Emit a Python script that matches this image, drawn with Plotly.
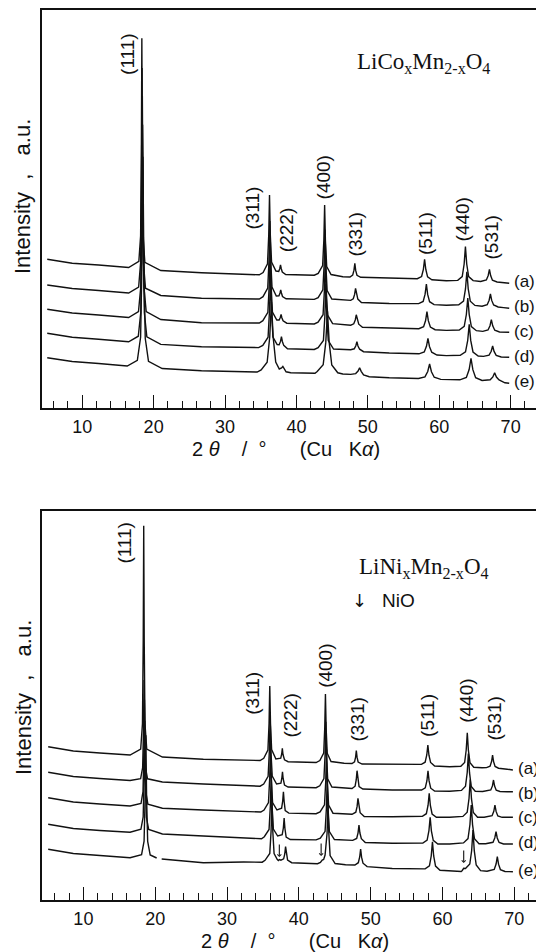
import plotly.graph_objects as go

# ---------------- DATA (2-theta in degrees, intensity in a.u. as stacked on the chart) -------------
# Top panel: LiCoxMn2-xO4, patterns (a)..(e)
co_a_x = [5.1, 8.6, 12.3, 16.5, 17.93, 18.175, 18.28, 18.35, 18.42, 18.525, 18.77, 21.0, 26.7, 32.3, 34.8, 35.33, 35.95, 36.12, 36.23, 36.34, 36.515, 37.13, 37.52, 37.67, 37.77, 37.87, 38.02, 38.5, 40.5, 42.5, 43.05, 43.67, 43.84, 43.95, 44.06, 44.24, 44.85, 46.5, 47.5, 47.88, 48.06, 48.18, 48.3, 48.48, 49.0, 53.0, 56.93, 57.53, 57.78, 57.95, 58.12, 58.37, 58.97, 61.0, 62.59, 63.22, 63.49, 63.67, 63.85, 64.12, 64.75, 65.8, 66.6, 66.86, 67.03, 67.2, 67.45, 68.1, 69.0, 69.8]
co_a_y = [148.7, 144.7, 143.0, 140.5, 146.6, 171.9, 254.7, 369.7, 253.7, 170.9, 145.6, 137.5, 135.3, 133.7, 133.2, 135.4, 144.2, 173.0, 213.0, 173.5, 146.0, 137.0, 136.5, 139.5, 143.0, 139.5, 136.0, 133.5, 133.2, 132.8, 134.6, 142.4, 168.0, 203.0, 167.5, 141.5, 133.5, 131.3, 131.0, 132.9, 137.8, 144.7, 137.6, 132.7, 130.7, 129.8, 129.3, 131.5, 138.7, 148.7, 138.5, 131.2, 128.2, 127.2, 127.6, 131.4, 144.0, 161.5, 144.0, 131.4, 127.4, 126.5, 128.0, 132.5, 138.7, 132.4, 127.8, 126.0, 125.4, 124.7]

co_b_x = [5.1, 8.6, 12.3, 16.5, 17.9, 18.18, 18.3, 18.38, 18.46, 18.58, 18.86, 21.0, 26.7, 32.3, 34.8, 35.32, 35.98, 36.16, 36.28, 36.4, 36.58, 37.18, 37.55, 37.7, 37.8, 37.9, 38.05, 38.55, 40.5, 42.5, 43.04, 43.7, 43.88, 44.0, 44.12, 44.3, 44.96, 46.5, 47.6, 47.96, 48.15, 48.28, 48.41, 48.6, 49.1, 53.0, 57.12, 57.75, 58.02, 58.2, 58.38, 58.65, 59.28, 61.0, 62.73, 63.4, 63.68, 63.87, 64.06, 64.35, 65.0, 66.0, 66.72, 66.99, 67.17, 67.35, 67.62, 68.25, 69.0, 69.8]
co_b_y = [123.0, 119.5, 117.5, 115.0, 120.8, 145.6, 227.0, 340.0, 226.0, 144.6, 119.8, 112.5, 109.7, 109.5, 109.0, 111.3, 120.0, 148.0, 187.0, 148.0, 121.0, 112.0, 112.2, 115.0, 118.0, 115.0, 111.5, 109.2, 109.0, 108.6, 110.4, 118.1, 143.3, 178.3, 143.0, 117.5, 109.0, 108.0, 107.6, 109.2, 113.6, 119.7, 113.4, 108.9, 105.5, 104.5, 104.4, 106.6, 113.8, 124.0, 113.6, 106.3, 103.4, 102.8, 103.3, 107.0, 119.3, 136.3, 119.2, 106.8, 102.6, 101.8, 103.3, 107.8, 114.0, 107.6, 103.0, 101.0, 100.4, 99.7]

co_c_x = [5.1, 8.6, 12.3, 16.5, 17.88, 18.195, 18.33, 18.42, 18.51, 18.645, 18.96, 21.0, 26.7, 32.3, 34.8, 35.3, 36.0, 36.19, 36.32, 36.45, 36.64, 37.25, 37.58, 37.74, 37.85, 37.96, 38.13, 38.65, 40.5, 42.5, 43.03, 43.73, 43.92, 44.05, 44.18, 44.37, 45.07, 46.5, 47.6, 48.03, 48.24, 48.38, 48.52, 48.73, 49.25, 53.0, 57.14, 57.81, 58.09, 58.28, 58.47, 58.76, 59.42, 61.0, 62.8, 63.5, 63.8, 64.0, 64.2, 64.5, 65.2, 66.1, 66.83, 67.11, 67.3, 67.49, 67.78, 68.44, 69.0, 69.8]
co_c_y = [98.7, 95.0, 93.0, 90.5, 96.4, 120.8, 200.7, 311.7, 200.7, 120.8, 96.4, 88.5, 85.3, 85.3, 85.0, 87.3, 95.6, 123.0, 161.0, 123.0, 96.0, 88.0, 88.0, 90.5, 93.5, 90.3, 87.2, 84.8, 84.5, 84.0, 85.8, 93.3, 117.8, 151.8, 117.5, 92.8, 84.3, 83.2, 82.8, 84.2, 88.0, 93.2, 87.8, 83.8, 80.8, 79.8, 79.3, 81.3, 87.5, 96.3, 87.3, 81.0, 78.3, 77.6, 78.0, 81.6, 93.5, 110.0, 93.4, 81.4, 77.3, 76.6, 78.0, 82.3, 88.3, 82.2, 77.8, 76.0, 76.0, 75.7]

co_d_x = [5.1, 8.6, 12.3, 16.5, 17.85, 18.2, 18.35, 18.45, 18.55, 18.7, 19.05, 21.0, 26.7, 32.3, 34.7, 35.29, 36.03, 36.23, 36.37, 36.51, 36.71, 37.3, 37.58, 37.77, 37.9, 38.03, 38.22, 38.75, 40.5, 42.5, 43.04, 43.78, 43.98, 44.12, 44.26, 44.46, 45.2, 46.5, 47.6, 48.1, 48.32, 48.47, 48.62, 48.85, 49.4, 53.0, 57.16, 57.9, 58.21, 58.42, 58.63, 58.95, 59.68, 61.0, 62.94, 63.68, 63.99, 64.2, 64.41, 64.73, 65.46, 66.2, 66.98, 67.28, 67.48, 67.68, 67.98, 68.68, 69.0, 69.8]
co_d_y = [74.7, 70.8, 68.7, 66.2, 71.8, 95.8, 174.3, 283.3, 174.0, 95.3, 71.2, 63.6, 61.3, 60.7, 60.4, 62.6, 70.8, 97.4, 134.4, 97.4, 71.0, 63.4, 63.2, 66.6, 71.3, 66.5, 62.6, 59.3, 58.8, 58.5, 60.4, 67.6, 91.4, 124.4, 91.3, 67.4, 59.0, 58.7, 58.3, 59.2, 62.2, 66.3, 62.0, 58.8, 56.3, 55.0, 54.2, 56.0, 61.7, 69.7, 61.5, 55.8, 53.0, 52.4, 52.7, 56.2, 67.7, 83.7, 67.6, 56.0, 52.0, 51.6, 52.9, 56.7, 62.0, 56.6, 52.7, 51.0, 51.0, 50.7]

co_e_x = [5.1, 8.6, 12.3, 16.3, 17.72, 18.175, 18.37, 18.5, 18.63, 18.825, 19.28, 21.2, 26.7, 32.3, 34.5, 35.06, 35.9, 36.26, 36.5, 36.74, 37.1, 37.6, 37.92, 38.1, 38.28, 38.55, 39.2, 41.0, 42.6, 42.91, 43.75, 44.11, 44.35, 44.59, 44.95, 45.79, 46.5, 47.6, 48.3, 48.63, 48.85, 49.07, 49.4, 50.2, 53.0, 57.09, 58.0, 58.39, 58.65, 58.91, 59.3, 60.21, 62.0, 62.89, 63.8, 64.19, 64.45, 64.71, 65.1, 66.0, 67.14, 67.51, 67.76, 68.01, 68.38, 69.2, 69.8]
co_e_y = [50.3, 46.5, 44.5, 42.0, 47.6, 70.7, 146.3, 251.3, 145.8, 69.7, 46.6, 39.5, 37.3, 36.3, 36.0, 38.1, 45.8, 71.0, 106.0, 71.0, 46.0, 39.0, 40.0, 41.5, 39.5, 36.2, 35.2, 35.0, 34.7, 36.5, 43.3, 65.6, 96.6, 65.4, 43.0, 35.2, 34.0, 33.6, 34.4, 36.9, 40.3, 36.7, 33.0, 31.3, 30.2, 29.5, 31.1, 36.5, 44.0, 36.3, 30.8, 28.6, 28.0, 28.2, 30.6, 38.5, 49.6, 38.3, 30.3, 27.5, 28.2, 31.1, 35.3, 31.0, 28.0, 25.2, 24.7]

# Bottom panel: LiNixMn2-xO4, patterns (a)..(e)
ni_a_x = [5.1, 8.6, 12.3, 16.5, 17.98, 18.225, 18.33, 18.4, 18.47, 18.575, 18.82, 21.0, 26.7, 32.3, 34.6, 35.11, 35.69, 35.85, 35.95, 36.05, 36.21, 36.8, 37.48, 37.61, 37.7, 37.79, 38.0, 38.5, 40.5, 42.4, 42.92, 43.46, 43.6, 43.7, 43.8, 43.95, 44.48, 46.3, 47.4, 47.75, 47.9, 48.0, 48.1, 48.25, 48.8, 53.0, 57.06, 57.58, 57.81, 57.96, 58.11, 58.34, 58.9, 61.0, 62.55, 63.08, 63.3, 63.45, 63.6, 63.83, 64.35, 65.5, 66.13, 66.62, 66.83, 66.97, 67.11, 67.32, 67.8, 69.0, 69.8]
ni_a_y = [153.3, 149.0, 147.0, 145.0, 150.9, 176.2, 259.0, 374.3, 259.0, 176.2, 150.9, 143.0, 140.7, 140.0, 139.5, 141.7, 150.0, 176.7, 214.0, 176.7, 150.5, 141.0, 141.8, 146.0, 151.7, 145.5, 140.2, 138.3, 137.8, 137.5, 139.4, 147.0, 171.7, 206.0, 171.5, 146.8, 138.5, 136.7, 136.5, 138.2, 142.9, 149.4, 142.8, 138.0, 136.0, 135.5, 135.6, 137.8, 145.0, 155.0, 144.8, 137.6, 134.0, 133.2, 133.7, 137.5, 150.0, 167.3, 149.8, 137.2, 132.7, 132.2, 132.4, 133.8, 138.5, 145.0, 138.4, 133.6, 131.8, 130.8, 130.0]

ni_b_x = [5.1, 8.6, 12.3, 16.5, 17.97, 18.25, 18.37, 18.45, 18.53, 18.65, 18.93, 21.0, 26.7, 32.3, 34.6, 35.1, 35.72, 35.89, 36.0, 36.11, 36.29, 36.9, 37.5, 37.63, 37.72, 37.81, 38.0, 38.5, 40.5, 42.4, 42.91, 43.49, 43.65, 43.75, 43.85, 44.01, 44.6, 46.3, 47.4, 47.83, 47.99, 48.1, 48.21, 48.38, 48.9, 53.0, 57.08, 57.6, 57.83, 57.98, 58.13, 58.36, 58.9, 61.0, 62.64, 63.2, 63.44, 63.6, 63.76, 64.0, 64.56, 65.6, 66.72, 66.95, 67.1, 67.25, 67.48, 68.0, 69.0, 69.8]
ni_b_y = [127.7, 123.5, 121.5, 119.5, 121.4, 132.5, 169.2, 220.0, 169.0, 132.3, 121.2, 118.0, 116.0, 114.0, 113.8, 116.0, 123.6, 148.8, 183.8, 148.8, 124.0, 116.0, 116.8, 121.8, 128.3, 121.5, 115.0, 113.0, 112.6, 112.3, 114.2, 121.4, 145.2, 178.2, 145.0, 121.2, 113.0, 111.7, 111.5, 113.8, 120.3, 129.3, 120.2, 113.5, 111.0, 110.0, 110.0, 112.1, 119.3, 129.3, 119.1, 111.8, 109.0, 108.8, 109.6, 113.8, 127.5, 146.5, 127.3, 113.5, 108.8, 108.5, 110.0, 114.1, 120.0, 114.0, 109.8, 108.5, 108.3, 108.3]

ni_c_x = [5.1, 8.6, 12.3, 16.5, 18.02, 18.3, 18.42, 18.5, 18.58, 18.7, 18.98, 21.0, 26.7, 32.3, 34.7, 35.15, 35.77, 35.94, 36.05, 36.16, 36.34, 36.95, 37.6, 37.75, 37.85, 37.95, 38.1, 38.6, 40.5, 42.4, 42.95, 43.57, 43.74, 43.85, 43.96, 44.14, 44.75, 46.3, 47.4, 47.93, 48.11, 48.23, 48.35, 48.53, 49.1, 53.0, 57.19, 57.75, 57.99, 58.15, 58.31, 58.55, 59.15, 61.0, 62.84, 63.44, 63.69, 63.86, 64.03, 64.29, 64.88, 65.8, 66.9, 67.14, 67.3, 67.46, 67.7, 68.3, 69.0, 69.8]
ni_c_y = [102.3, 98.0, 96.0, 94.0, 96.5, 108.3, 146.8, 200.3, 146.2, 107.7, 95.9, 91.8, 90.0, 88.3, 88.0, 90.0, 97.5, 122.0, 156.0, 122.0, 97.5, 90.0, 91.8, 99.0, 108.3, 98.5, 89.3, 86.9, 86.5, 86.3, 88.1, 95.2, 118.2, 150.2, 118.0, 95.0, 86.8, 86.0, 85.7, 87.8, 93.6, 101.7, 93.4, 87.3, 83.5, 83.2, 83.7, 86.3, 94.8, 106.7, 94.5, 86.0, 82.8, 82.7, 83.6, 87.8, 101.5, 120.5, 101.3, 87.5, 82.8, 82.7, 84.3, 88.7, 95.0, 88.6, 84.0, 82.7, 82.7, 82.7]

ni_d_x = [5.1, 8.6, 12.3, 16.5, 18.01, 18.325, 18.46, 18.55, 18.64, 18.775, 19.09, 21.0, 26.7, 32.3, 34.8, 35.19, 35.85, 36.03, 36.15, 36.27, 36.45, 37.05, 37.68, 37.84, 37.95, 38.06, 38.23, 38.8, 40.5, 42.4, 42.99, 43.65, 43.83, 43.95, 44.07, 44.25, 44.95, 46.3, 47.5, 48.05, 48.24, 48.37, 48.5, 48.7, 49.25, 53.0, 57.26, 57.86, 58.11, 58.28, 58.45, 58.71, 59.35, 61.0, 62.92, 63.55, 63.82, 64.0, 64.18, 64.45, 65.08, 66.0, 67.03, 67.28, 67.45, 67.62, 67.88, 68.5, 69.0, 69.8]
ni_d_y = [75.7, 71.5, 69.5, 67.8, 70.7, 83.0, 123.3, 179.3, 123.0, 82.7, 70.5, 66.0, 64.0, 61.7, 61.3, 63.3, 70.5, 94.3, 127.3, 94.3, 71.0, 64.0, 65.3, 72.0, 82.0, 71.5, 63.0, 60.5, 60.3, 60.1, 61.9, 68.7, 91.0, 122.0, 90.8, 68.5, 60.5, 60.0, 59.6, 61.6, 67.2, 75.0, 67.0, 61.3, 57.5, 56.7, 57.0, 59.9, 69.4, 82.7, 69.2, 59.6, 56.0, 56.0, 57.1, 61.4, 75.5, 95.0, 75.4, 61.2, 56.3, 56.2, 57.7, 62.1, 68.3, 62.0, 57.5, 56.0, 56.0, 56.0]

ni_e_x = [5.1, 8.6, 12.3, 16.5, 18.1, 18.45, 18.6, 18.7, 18.8, 18.95, 19.3, 20.2, None, 20.9, 26.7, 32.3, 34.9, 35.29, 35.95, 36.13, 36.25, 36.37, 36.55, 37.0, 37.15, 37.3, 37.5, 37.88, 38.04, 38.15, 38.26, 38.43, 39.0, 41.0, 42.6, 43.0, 43.25, 43.45, 43.65, 43.93, 44.05, 44.17, 44.35, 45.05, 46.5, 47.8, 48.28, 48.47, 48.6, 48.73, 48.93, 49.5, 53.0, 57.58, 58.18, 58.43, 58.6, 58.77, 59.03, 59.65, 61.5, 62.6, 62.75, 62.95, 63.2, 63.8, 64.06, 64.24, 64.42, 64.69, 65.3, 66.2, 67.2, 67.46, 67.63, 67.8, 68.06, 68.7, 69.3, 69.8]
ni_e_y = [50.7, 46.5, 44.5, 42.3, 45.4, 58.9, 103.2, 164.7, 103.0, 58.6, 45.1, 42.0, None, 41.0, 37.3, 38.0, 37.8, 39.7, 46.5, 68.8, 99.8, 68.8, 46.5, 40.5, 39.5, 40.5, 39.8, 41.2, 46.0, 53.3, 45.8, 40.0, 37.3, 36.5, 36.3, 37.5, 40.0, 40.5, 45.0, 67.0, 96.0, 67.0, 44.5, 36.5, 35.2, 35.0, 37.3, 43.0, 51.0, 42.8, 36.8, 33.4, 31.5, 31.1, 34.2, 44.2, 58.3, 44.0, 33.9, 29.8, 28.8, 28.5, 29.5, 31.7, 31.5, 36.0, 49.5, 70.0, 49.3, 35.0, 29.3, 28.8, 30.6, 35.9, 43.3, 35.8, 30.4, 28.5, 28.4, 28.3]

# Reflection labels (Miller indices)
hkl_labels = ["(111)", "(311)", "(222)", "(400)", "(331)", "(511)", "(440)", "(531)"]
co_hkl_x = [16.4, 33.85, 38.7, 43.92, 48.4, 58.16, 63.39, 67.32]
co_hkl_y = [354, 200, 178, 231, 174, 174, 189, 170]
ni_hkl_x = [15.6, 33.45, 38.7, 43.62, 48.16, 57.83, 63.24, 67.1]
ni_hkl_y = [357, 207, 184, 234, 181, 185, 199, 181]

# Pattern labels
pattern_labels = ["(a)", "(b)", "(c)", "(d)", "(e)"]
co_label_y = [126, 101, 76, 51, 26]
ni_label_y = [131.5, 107, 82.7, 57.3, 30]
label_x = 70.2

# NiO impurity markers on bottom pattern (e): arrow tips
nio_x = [37.28, 43.1, 62.95]
nio_y = [43, 44, 37]

co_series = [(co_a_x, co_a_y), (co_b_x, co_b_y), (co_c_x, co_c_y), (co_d_x, co_d_y), (co_e_x, co_e_y)]
ni_series = [(ni_a_x, ni_a_y), (ni_b_x, ni_b_y), (ni_c_x, ni_c_y), (ni_d_x, ni_d_y), (ni_e_x, ni_e_y)]
for xs, ys in co_series + ni_series:
    assert len(xs) == len(ys), (len(xs), len(ys))

# ---------------- FIGURE -------------------------------------------------------------------------
W, H = 536, 952
SANS = "Liberation Sans"
SERIF = "Liberation Serif"
ARROWFONT = "DejaVu Sans"
INK = "#111111"

fig = go.Figure()
for xs, ys in co_series:
    fig.add_trace(go.Scatter(x=xs, y=ys, mode="lines", xaxis="x", yaxis="y",
                             line=dict(color=INK, width=1.4), hoverinfo="skip"))
for xs, ys in ni_series:
    fig.add_trace(go.Scatter(x=xs, y=ys, mode="lines", xaxis="x2", yaxis="y2",
                             line=dict(color=INK, width=1.4), hoverinfo="skip"))


def px(v):
    return v / W


def py(v):
    return 1 - v / H


x_dom = [px(41.7), 1.0]
top_dom = [py(408), py(10)]
bot_dom = [py(900), py(511)]

xaxis_style = dict(
    showline=True, linecolor=INK, linewidth=1.5, mirror=True,
    showgrid=False, zeroline=False,
    ticks="inside", ticklen=13, tickwidth=1.3, tickcolor=INK,
    tick0=0, dtick=10,
    minor=dict(tick0=0, dtick=2, ticks="inside", ticklen=7, tickwidth=1.2, tickcolor=INK),
    tickfont=dict(family=SANS, size=18, color=INK),
    ticklabelstandoff=2,
)
yaxis_style = dict(showline=True, linecolor=INK, linewidth=1.5, mirror=False,
                   showgrid=False, zeroline=False, showticklabels=False, ticks="")

fig.update_layout(
    width=W, height=H, margin=dict(l=0, r=0, t=0, b=0),
    paper_bgcolor="white", plot_bgcolor="white", showlegend=False,
    xaxis=dict(domain=x_dom, range=[4.324, 73.553], anchor="y", **xaxis_style),
    yaxis=dict(domain=top_dom, range=[0, 398], anchor="x", **yaxis_style),
    xaxis2=dict(domain=x_dom, range=[4.196, 73.016], anchor="y2", **xaxis_style),
    yaxis2=dict(domain=bot_dom, range=[0, 389], anchor="x2", **yaxis_style),
)

ann = []
# hkl labels
for lab, xv, yv in zip(hkl_labels, co_hkl_x, co_hkl_y):
    ann.append(dict(x=xv, y=yv, xref="x", yref="y", text=lab, textangle=-90, showarrow=False,
                    xanchor="center", yanchor="middle", font=dict(family=SANS, size=19, color=INK)))
for lab, xv, yv in zip(hkl_labels, ni_hkl_x, ni_hkl_y):
    ann.append(dict(x=xv, y=yv, xref="x2", yref="y2", text=lab, textangle=-90, showarrow=False,
                    xanchor="center", yanchor="middle", font=dict(family=SANS, size=19, color=INK)))
# pattern labels
for lab, yv in zip(pattern_labels, co_label_y):
    ann.append(dict(x=label_x, y=yv, xref="x", yref="y", text=lab, xanchor="left", yanchor="middle",
                    showarrow=False, font=dict(family=SANS, size=17, color=INK)))
for lab, yv in zip(pattern_labels, ni_label_y):
    ann.append(dict(x=label_x, y=yv, xref="x2", yref="y2", text=lab, xanchor="left", yanchor="middle",
                    showarrow=False, font=dict(family=SANS, size=17, color=INK)))
# NiO markers (small arrows pointing down at the impurity reflections)
for xv, yv in zip(nio_x, nio_y):
    ann.append(dict(x=xv, y=yv, xref="x2", yref="y2", text="", showarrow=True,
                    ax=0, ay=-14, arrowhead=4, arrowsize=0.7, arrowwidth=1.1, arrowcolor=INK,
                    standoff=0, startstandoff=0))

nb = "\u00a0"
xtitle = "2" + nb + "<i>θ</i>" + nb * 4 + "/" + nb * 2 + "°" + nb * 6 + "(Cu" + nb * 3 + "K<i>α</i>)"
ytitle = "Intensity" + nb * 2 + "," + nb * 3 + "a.u."

for ycen in (197, 698):
    ann.append(dict(x=px(23), y=py(ycen), xref="paper", yref="paper", text=ytitle, textangle=-90,
                    xanchor="center", yanchor="middle", showarrow=False,
                    font=dict(family=SANS, size=22, color=INK)))
ann.append(dict(x=px(190), y=py(449), xref="paper", yref="paper", text=xtitle, xanchor="left",
                yanchor="middle", showarrow=False, font=dict(family=SANS, size=20, color=INK)))
ann.append(dict(x=px(199), y=py(941), xref="paper", yref="paper", text=xtitle, xanchor="left",
                yanchor="middle", showarrow=False, font=dict(family=SANS, size=20, color=INK)))

# compound names
ann.append(dict(x=px(355), y=py(63), xref="paper", yref="paper",
                text="LiCo<sub>x</sub>Mn<sub>2-x</sub>O<sub>4</sub>", xanchor="left", yanchor="middle",
                showarrow=False, font=dict(family=SERIF, size=23, color=INK)))
ann.append(dict(x=px(357), y=py(568), xref="paper", yref="paper",
                text="LiNi<sub>x</sub>Mn<sub>2-x</sub>O<sub>4</sub>", xanchor="left", yanchor="middle",
                showarrow=False, font=dict(family=SERIF, size=23, color=INK)))
ann.append(dict(x=px(359), y=py(600), xref="paper", yref="paper", text="\u2193", showarrow=False,
                xanchor="center", yanchor="middle", font=dict(family=ARROWFONT, size=18, color=INK)))
ann.append(dict(x=px(380), y=py(600), xref="paper", yref="paper", text="NiO", xanchor="left",
                yanchor="middle", showarrow=False, font=dict(family=SANS, size=19, color=INK)))

fig.update_layout(annotations=ann)
fig.write_html("out.html", config={"displayModeBar": False},
               post_script="document.body.style.margin='0';document.body.style.overflow='hidden';")
